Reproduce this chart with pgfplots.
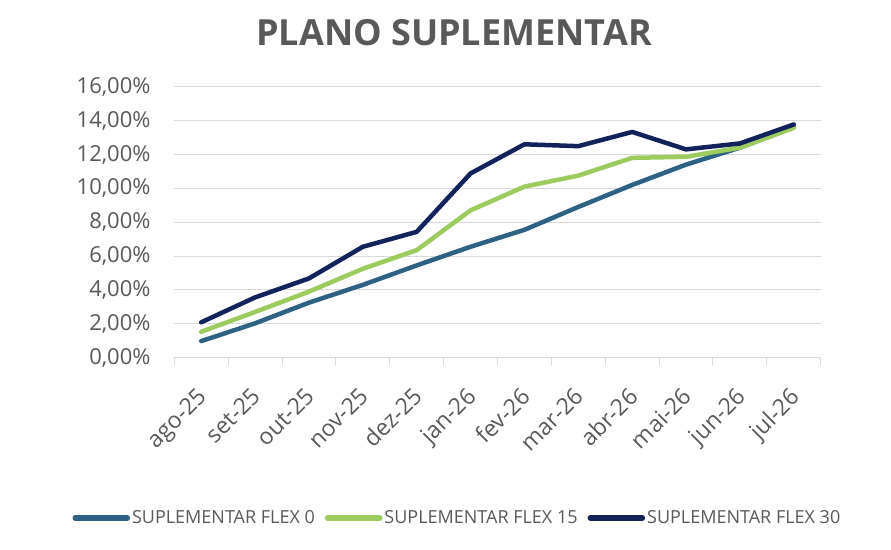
\documentclass[border=0pt]{standalone}
\usepackage{fontspec}
\setmainfont{Open Sans}
\usepackage{pgfplots}
\pgfplotsset{compat=1.18}
\definecolor{txt}{HTML}{595959}
\definecolor{gridc}{HTML}{D9D9D9}
\definecolor{flexA}{HTML}{2E6285}
\definecolor{flexB}{HTML}{9CCB5E}
\definecolor{flexC}{HTML}{12235C}
\begin{document}
\begin{tikzpicture}
\path[use as bounding box] (-174.3pt,-191.3pt) rectangle (716.7pt,357.7pt);
\begin{axis}[
  scale only axis, width=646.4pt, height=271pt,
  xmin=-0.5, xmax=11.5, ymin=0, ymax=16,
  axis x line*=bottom,
  y axis line style={draw=none},
  x axis line style={draw=gridc, line width=1pt},
  xtick={0,...,11},
  xticklabels={ago-25,set-25,out-25,nov-25,dez-25,jan-26,fev-26,mar-26,abr-26,mai-26,jun-26,jul-26},
  minor xtick={-0.5,0.5,...,11.5},
  major x tick style={draw=none},
  minor x tick style={draw=gridc, line width=1pt},
  minor tick length=7pt, tick align=outside,
  xticklabel style={rotate=45, anchor=north east, font=\fontsize{23}{23}\selectfont, text=txt, yshift=-10pt, xshift=-17pt},
  ytick={0,2,...,16},
  ymajorgrids, grid style={draw=gridc, line width=1pt},
  ytick style={draw=none},
  /pgf/number format/assume math mode=true,
  yticklabel={\pgfmathprintnumber[fixed, fixed zerofill, precision=2, use comma]{\tick}\%},
  yticklabel style={font=\fontsize{22}{22}\selectfont, text=txt, anchor=east, xshift=-16pt},
  legend columns=3,
  legend style={draw=none, fill=none, at={(0.438,-0.5915)}, anchor=center,
    font=\fontsize{18}{18}\selectfont, text=txt,
    /tikz/every even column/.append style={column sep=8pt}},
  legend image code/.code={\draw[#1, line width=5.5pt, line cap=round] (0pt,0pt) -- (52pt,0pt);},
  every axis plot/.append style={line width=4.5pt, line join=round, line cap=round},
]
\addplot[flexA] coordinates {(0,0.98) (1,2.03) (2,3.25) (3,4.3) (4,5.45) (5,6.55) (6,7.55) (7,8.9) (8,10.2) (9,11.4) (10,12.4) (11,13.6)};
\addlegendentry{SUPLEMENTAR FLEX 0}
\addplot[flexB] coordinates {(0,1.53) (1,2.7) (2,3.9) (3,5.25) (4,6.35) (5,8.7) (6,10.1) (7,10.75) (8,11.8) (9,11.86) (10,12.4) (11,13.57)};
\addlegendentry{SUPLEMENTAR FLEX 15}
\addplot[flexC] coordinates {(0,2.09) (1,3.56) (2,4.68) (3,6.55) (4,7.43) (5,10.88) (6,12.6) (7,12.49) (8,13.33) (9,12.3) (10,12.65) (11,13.77)};
\addlegendentry{SUPLEMENTAR FLEX 30}
\end{axis}
\node[font=\fontsize{36}{36}\selectfont\bfseries, text=txt] at (279.7pt,324.7pt) {PLANO SUPLEMENTAR};
\end{tikzpicture}
\end{document}
